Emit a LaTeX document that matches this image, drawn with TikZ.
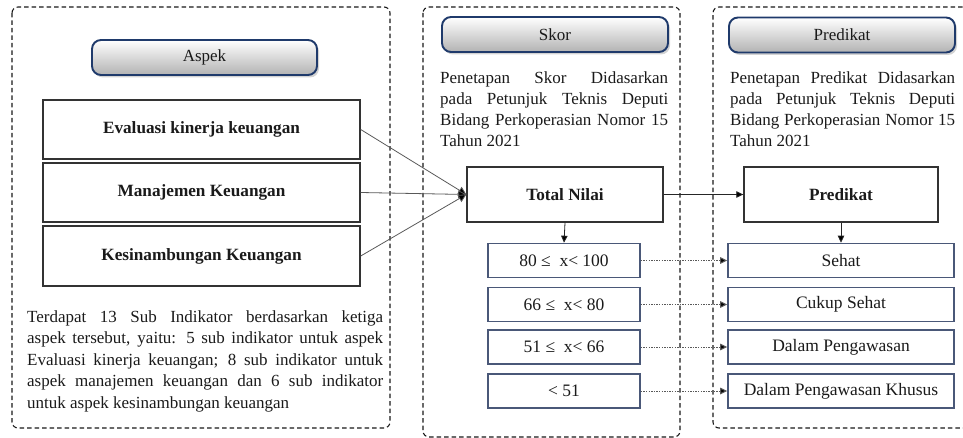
\documentclass[tikz,border=0pt]{standalone}
\usepackage{fontspec}
\setmainfont{Liberation Serif}
\usetikzlibrary{arrows.meta,shadows}
\definecolor{txt}{HTML}{1A1A1A}
\definecolor{navy}{HTML}{1F3A6B}
\definecolor{slate}{HTML}{4A5878}
\begin{document}
\begin{tikzpicture}[x=1pt,y=-1pt,
  panel/.style={draw=black!90, line width=1.1pt, dash pattern=on 4.5pt off 3pt, rounded corners=6pt},
  header/.style={draw=navy, line width=1.9pt, rounded corners=9pt, top color=white, bottom color=black!30,
    minimum width=#1, minimum height=35pt, inner sep=0pt, font=\fontsize{17}{20}\selectfont, text=txt,
    drop shadow={shadow xshift=2pt, shadow yshift=-2.5pt, opacity=0.35}},
  boldbox/.style={draw=black!80, line width=1.4pt, fill=white, minimum width=#1, minimum height=57pt, inner sep=0pt,
    font=\fontsize{17.2}{20}\selectfont\bfseries, text=txt},
  catbox/.style={draw=slate, line width=1.6pt, fill=white, minimum width=#1, minimum height=34pt, inner sep=0pt,
    font=\fontsize{17.5}{20}\selectfont, text=txt},
  para/.style={text width=#1, align=justify, inner sep=0pt, anchor=north west, text=txt},
  conv/.style={draw=black!65, line width=0.8pt, -{Triangle[length=8pt,width=8pt,fill=black]}},
  solidarrow/.style={draw=black!85, line width=0.8pt, -{Triangle[length=7pt,width=6.5pt,fill=black]}},
  dotarrow/.style={draw=black!65, line width=1pt, dash pattern=on 1.3pt off 1.3pt, -{Triangle[length=7pt,width=6.5pt,fill=black]}}
]
\useasboundingbox (0,0) rectangle (963,438);

% panels
\draw[panel] (12,7) rectangle (390,428);
\draw[panel] (423,7) rectangle (680,437);
\draw[panel] (970,7) -- (713,7) -- (713,428) -- (970,428);

% headers
\node[header=225pt] (hAspek) at (204.5,57.5) {Aspek};
\node[header=226pt] (hSkor) at (555,34.5) {Skor};
\node[header=226pt] (hPred) at (842,35) {Predikat};

% aspect boxes
\node[boldbox=317pt, minimum height=59pt] (bEval) at (201.5,129.5) {Evaluasi kinerja keuangan};
\node[boldbox=317pt, minimum height=59pt] (bMan) at (201.5,192.5) {Manajemen Keuangan};
\node[boldbox=317pt, minimum height=60pt] (bKes) at (201.5,256) {Kesinambungan Keuangan};

% paragraphs
\node[para=356pt, font=\fontsize{17}{21.5}\selectfont] (pLeft) at (27,310.5)
  {Terdapat 13 Sub Indikator berdasarkan ketiga\linebreak aspek tersebut, yaitu: 5 sub indikator untuk aspek\linebreak Evaluasi kinerja keuangan; 8 sub indikator untuk\linebreak aspek manajemen keuangan dan 6 sub indikator\linebreak untuk aspek kesinambungan keuangan};
\node[para=228pt, font=\fontsize{17}{21}\selectfont] (pMid) at (440,71.5)
  {Penetapan Skor Didasarkan\linebreak pada Petunjuk Teknis Deputi\linebreak Bidang Perkoperasian Nomor 15\linebreak Tahun 2021};
\node[para=225pt, font=\fontsize{17}{21}\selectfont] (pRight) at (730,71.5)
  {Penetapan Predikat Didasarkan\linebreak pada Petunjuk Teknis Deputi\linebreak Bidang Perkoperasian Nomor 15\linebreak Tahun 2021};

% total / predikat
\node[boldbox=196pt, minimum height=55pt] (bTotal) at (565,194.5) {Total Nilai};
\node[boldbox=194pt, minimum height=55pt] (bPred) at (841,194.5) {Predikat};

% score ranges
\node[catbox=152pt] (r1) at (564,260.5) {80 ≤ \ x< 100};
\node[catbox=152pt] (r2) at (564,304.5) {66 ≤ \ x< 80};
\node[catbox=152pt] (r3) at (564,347) {51 ≤ \ x< 66};
\node[catbox=152pt] (r4) at (564,391) {< 51};

% predicates
\node[catbox=226pt] (s1) at (841,260.5) {Sehat};
\node[catbox=226pt] (s2) at (841,304.5) {Cukup Sehat};
\node[catbox=226pt] (s3) at (841,347) {Dalam Pengawasan};
\node[catbox=226pt] (s4) at (841,391) {Dalam Pengawasan Khusus};

% connectors
\draw[conv] (bEval.east) -- (bTotal.west);
\draw[conv] (bMan.east) -- (bTotal.west);
\draw[conv] (bKes.east) -- (bTotal.west);
\draw[solidarrow] (bTotal.east) -- (bPred.west);
\draw[solidarrow] (bTotal.south) -- (r1.north);
\draw[solidarrow] (bPred.south) -- (s1.north);
\draw[dotarrow] (r1.east) -- (s1.west);
\draw[dotarrow] (r2.east) -- (s2.west);
\draw[dotarrow] (r3.east) -- (s3.west);
\draw[dotarrow] (r4.east) -- (s4.west);
\end{tikzpicture}
\end{document}
